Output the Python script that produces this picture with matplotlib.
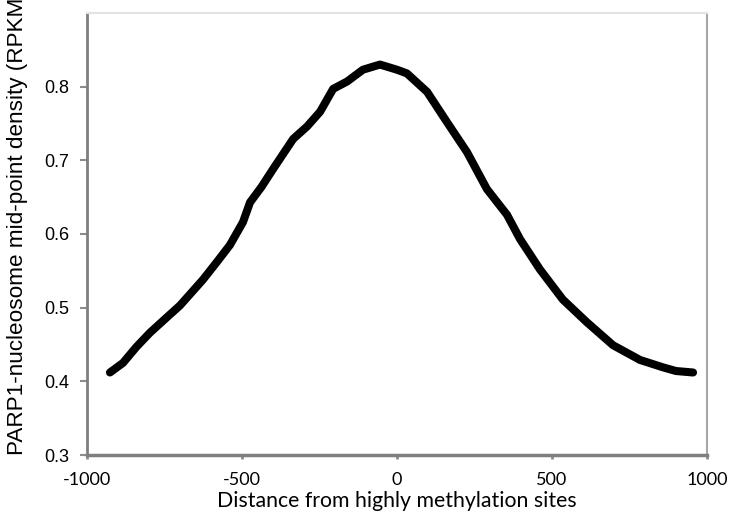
import matplotlib
matplotlib.use("Agg")
import matplotlib.pyplot as plt

# ---------------------------------------------------------------------
# Data
# ---------------------------------------------------------------------
distance = [-926, -884, -840, -797, -750, -700, -626, -581, -539, -497,
            -474, -437, -400, -335, -290, -248, -206, -161, -110, -55,
            0, 32, 97, 161, 226, 290, 355, 397, 461, 535,
            613, 697, 784, 858, 900, 955]
density = [0.412, 0.425, 0.447, 0.466, 0.484, 0.503, 0.538, 0.562, 0.585, 0.616,
           0.643, 0.664, 0.688, 0.729, 0.746, 0.766, 0.797, 0.807, 0.823, 0.830,
           0.823, 0.818, 0.793, 0.752, 0.711, 0.661, 0.626, 0.593, 0.552, 0.511,
           0.480, 0.449, 0.429, 0.419, 0.414, 0.412]

x_ticks = [-1000, -500, 0, 500, 1000]
y_ticks = [0.3, 0.4, 0.5, 0.6, 0.7, 0.8]

# ---------------------------------------------------------------------
# Plot
# ---------------------------------------------------------------------
W, H = 741, 512
fig = plt.figure(figsize=(W / 100, H / 100), dpi=100)
ax = fig.add_axes([87 / W, 1 - 455 / H, (707 - 87) / W, (455 - 13) / H])

ax.plot(distance, density, color="black", linewidth=5.8,
        solid_capstyle="round", solid_joinstyle="round")

ax.set_xlim(-1000, 1000)
ax.set_ylim(0.3, 0.9)
ax.set_xticks(x_ticks)
ax.set_yticks(y_ticks)
ax.set_yticklabels(["0.3", "0.4", "0.5", "0.6", "0.7", "0.8"],
                   family="Liberation Sans", fontsize=13)
ax.set_xticklabels([str(v) for v in x_ticks], family="Lato", fontsize=13)

ax.tick_params(axis="y", direction="out", length=5, width=1.5,
               color="#8c8c8c", pad=8)
ax.tick_params(axis="x", direction="out", length=3, width=2,
               color="#8c8c8c", pad=9)

ax.spines["left"].set_color("#7f7f7f")
ax.spines["left"].set_linewidth(2)
ax.spines["bottom"].set_color("#7f7f7f")
ax.spines["bottom"].set_linewidth(2.5)
ax.spines["right"].set_color("#a6a6a6")
ax.spines["right"].set_linewidth(1.5)
ax.spines["top"].set_color("#e3e3e3")
ax.spines["top"].set_linewidth(1.5)

fig.text(397 / W, 1 - 507 / H, "Distance from highly methylation sites",
         family="Lato", fontsize=15.3, ha="center", va="baseline")
fig.text(18 / W, 1 - 455 / H, "PARP1-nucleosome mid-point density (RPKM)",
         family="Liberation Sans", fontsize=16.2, rotation=90,
         ha="center", va="bottom")

fig.savefig("out.png", dpi=100)
